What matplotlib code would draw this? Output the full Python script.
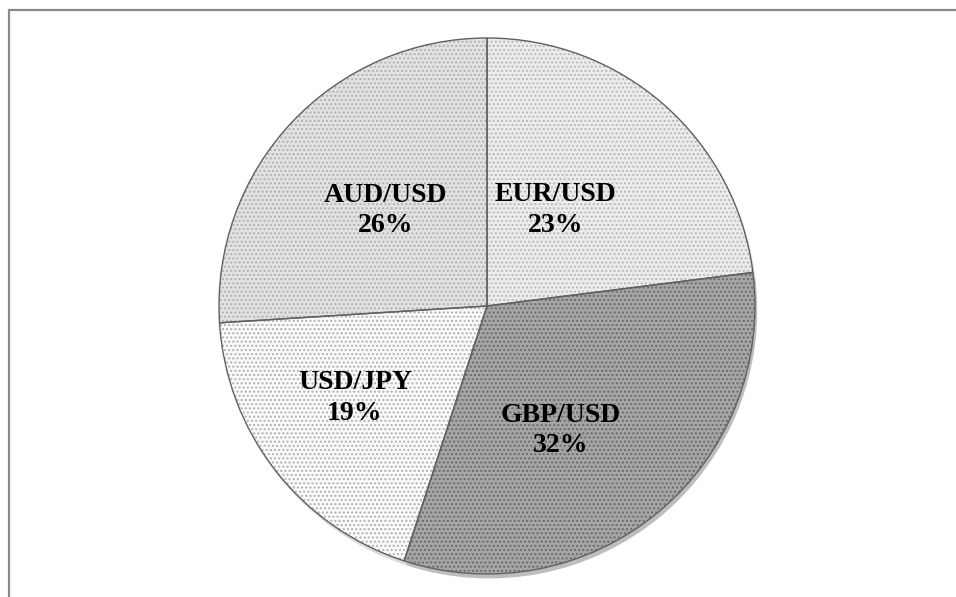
import numpy as np
import matplotlib
matplotlib.use('Agg')
from matplotlib import pyplot as plt
from matplotlib.patches import Rectangle

# Currency pair shares (clockwise from 12 o'clock)

pairs = ['EUR/USD', 'GBP/USD', 'USD/JPY', 'AUD/USD']
shares = [23, 32, 19, 26]
fills = ['#ececec', '#a6a6a6', '#fafafa', '#e2e2e2']
dots = ['#b8b8b8', '#6a6a6a', '#b0b0b0', '#b0b0b0']
label_r = [0.44, 0.54, 0.6, 0.52]
label_turn = [6, -9, -3, 0] # degrees off the slice middle

plt.rcParams['font.family'] = ['Liberation Serif', 'DejaVu Serif']

W, H = 956, 597
fig = plt.figure(figsize = (W / 100, H / 100), dpi = 100)

# chart frame (cut off at right and bottom like the source)
fig.patches.append(Rectangle((8.5 / W, -0.05), 1.2, 1 - 9.5 / H + 0.05,
  transform = fig.transFigure, fill = False, edgecolor = '#8a8a8a', linewidth = 1.6))

R = 268
cx, cy = 487, H - 306
ax = fig.add_axes([(cx - R) / W, (cy - R) / H, 2 * R / W, 2 * R / H])

wedges, _ = ax.pie(shares, startangle = 90, counterclock = False, colors = fills,
  wedgeprops = dict(linewidth = 0), shadow = dict(ox = 0.006, oy = -0.012, shade = 0.25))

for w, d in zip(wedges, dots):
  w.set_hatch('....')
  w.set_edgecolor(d)

# slice outlines on top
outline, _ = ax.pie(shares, startangle = 90, counterclock = False,
  wedgeprops = dict(fill = False, edgecolor = '#606060', linewidth = 1.0))

for w, name, v, r, t in zip(outline, pairs, shares, label_r, label_turn):
  a = np.deg2rad((w.theta1 + w.theta2) / 2 + t)
  ax.text(r * np.cos(a), r * np.sin(a), '{:s}\n{:d}%'.format(name, v),
    ha = 'center', va = 'center', fontsize = 20, fontweight = 'bold', linespacing = 1.3)

ax.set_xlim(-1, 1)
ax.set_ylim(-1, 1)
ax.set_aspect('equal')
ax.axis('off')

fig.savefig('out.png', dpi = 100)
